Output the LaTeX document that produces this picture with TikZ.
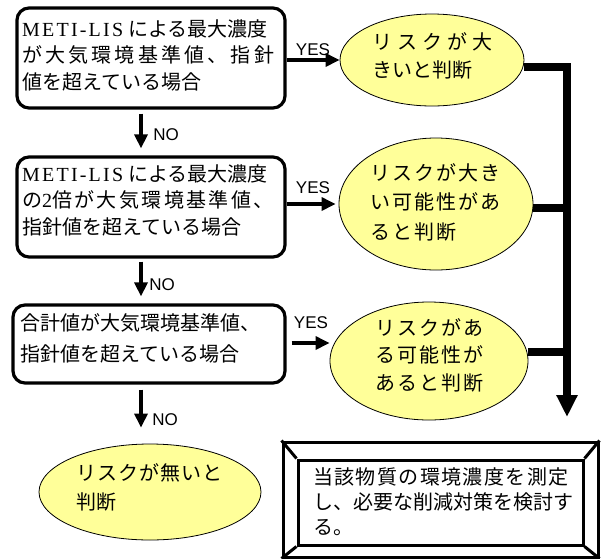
\documentclass[tikz,border=0pt]{standalone}
\usepackage{fontspec}
\setmainfont{Liberation Serif}
\newfontfamily\cjk{Noto Sans CJK JP}
\newfontfamily\lab{Liberation Sans}
\usetikzlibrary{arrows.meta,shapes.geometric}
\definecolor{paleyel}{HTML}{FFFF99}
\newcommand{\ls}[2]{{\addfontfeature{LetterSpace=#1}#2}}
\newcommand{\meti}{{\rmfamily\addfontfeature{LetterSpace=11}METI-LIS}\hspace{5pt}}
\tikzset{
  procbox/.style={draw, line width=3.2pt, rounded corners=12pt, inner sep=0pt},
  oval/.style={ellipse, draw, line width=0.8pt, fill=paleyel, inner sep=0pt},
  txt/.style={anchor=north west, inner sep=0pt, align=left},
  yn/.style={inner sep=0pt, font=\lab\fontsize{17}{17}\selectfont},
  flow/.style={line width=3.2pt, -{Triangle[length=14pt,width=13pt]}},
  bus/.style={line width=7.5pt},
  busend/.style={line width=7.5pt, -{Triangle[length=22pt,width=20pt]}},
  frame/.style={draw, line width=3pt, inner sep=0pt}
}
\begin{document}
\begin{tikzpicture}[x=1pt,y=-1pt]
\useasboundingbox (0,0) rectangle (603,558);
% decision boxes
\node[procbox, minimum width=268pt, minimum height=100pt] (b1) at (151,58) {};
\node[procbox, minimum width=268pt, minimum height=100pt] (b2) at (151,207) {};
\node[procbox, minimum width=272pt, minimum height=78pt] (b3) at (149,344) {};
% ovals
\node[oval, minimum width=184pt, minimum height=92pt] (e1) at (432,60) {};
\node[oval, minimum width=194pt, minimum height=132pt] (e2) at (436,204) {};
\node[oval, minimum width=198pt, minimum height=118pt] (e3) at (429,361) {};
\node[oval, minimum width=222pt, minimum height=96pt] (e4) at (150,492) {};
% final frame
\node[frame, minimum width=315pt, minimum height=115pt] (fo) at (440.5,499.5) {};
\node[frame, minimum width=285pt, minimum height=85pt] (fi) at (440.5,502.5) {};
\draw[line width=3pt] (fo.north west) -- (fi.north west)
  (fo.north east) -- (fi.north east)
  (fo.south west) -- (fi.south west)
  (fo.south east) -- (fi.south east);
% texts
\node[txt, font=\cjk\fontsize{20}{26.5}\selectfont] (t1) at (22,19)
  {\meti による最大濃度\\\ls{16}{が大気環境基準値、指針}\\値を超えている場合};
\node[txt, font=\cjk\fontsize{20}{26.5}\selectfont] (t2) at (22,164)
  {\meti による最大濃度\\\ls{12}{の{\rmfamily 2}倍が大気環境基準値、}\\指針値を超えている場合};
\node[txt, font=\cjk\fontsize{20}{31}\selectfont] (t3) at (20,313)
  {合計値が大気環境基準値、\\指針値を超えている場合};
\node[txt, font=\cjk\fontsize{20}{28}\selectfont] (t4) at (372,32)
  {\ls{25}{リスクが大}\\きいと判断};
\node[txt, font=\cjk\fontsize{20}{29.5}\selectfont] (t5) at (370,163)
  {\ls{10}{リスクが大き}\\\ls{10}{い可能性があ}\\\ls{10}{ると判断}};
\node[txt, font=\cjk\fontsize{20}{27.5}\selectfont] (t6) at (375,318)
  {\ls{10}{リスクがあ}\\\ls{10}{る可能性が}\\\ls{10}{あると判断}};
\node[txt, font=\cjk\fontsize{20}{29}\selectfont] (t7) at (76,463)
  {\ls{5}{リスクが無いと}\\判断};
\node[txt, font=\cjk\fontsize{20}{25}\selectfont] (t8) at (313,467)
  {\ls{7}{当該物質の環境濃度を測定}\\し、必要な削減対策を検討す\\る。};
% labels
\node[yn] (y1) at (313,50) {YES};
\node[yn] (y2) at (313,188) {YES};
\node[yn] (y3) at (311,323) {YES};
\node[yn] (n1) at (166,135) {NO};
\node[yn] (n2) at (162,285) {NO};
\node[yn] (n3) at (165,420) {NO};
% helper coordinates
\coordinate (colx) at (141,0);
\coordinate (r3) at (0,343);
\coordinate (tip) at (567,417);
% NO arrows
\draw[flow, shorten <=4pt, shorten >=7pt] (b1.south -| colx) -- (b2.north -| colx);
\draw[flow, shorten <=3pt, shorten >=7pt] (b2.south -| colx) -- (b3.north -| colx);
\draw[flow, shorten <=5pt, shorten >=16pt] (b3.south -| colx) -- (e4.north -| colx);
% YES arrows
\draw[flow] (b1.east |- e1.west) -- (e1.west);
\draw[flow, shorten >=3pt] (b2.east |- e2.west) -- (e2.west);
\draw[flow, shorten <=5pt] (b3.east |- r3) -- (e3.west |- r3);
% collecting bus
\draw[busend] ([yshift=-7pt]e1.east) -| (tip);
\draw[bus] ([yshift=-4pt]e2.east) -- ([yshift=-4pt]e2.east -| tip);
\draw[bus] ([yshift=9pt]e3.east) -- ([yshift=9pt]e3.east -| tip);
\end{tikzpicture}
\end{document}
